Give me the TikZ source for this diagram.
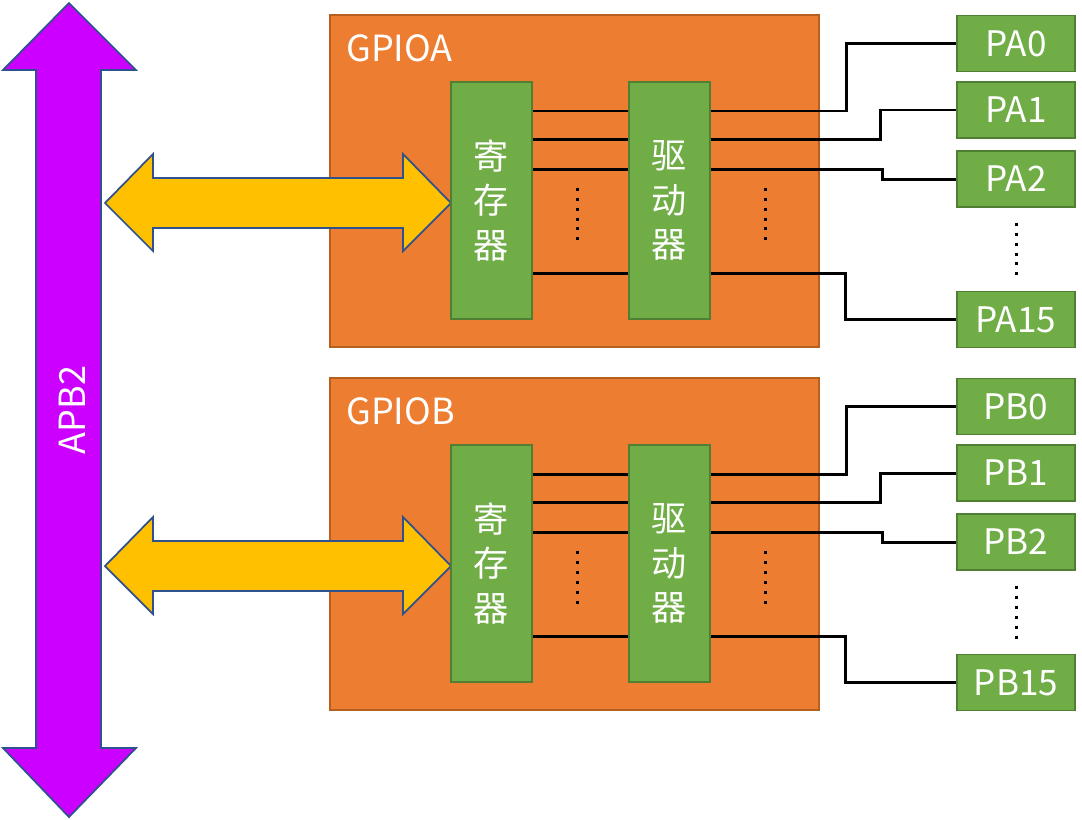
\documentclass[tikz,border=0pt]{standalone}
\usepackage{fontspec}
\setmainfont{Noto Sans CJK SC}
\usetikzlibrary{positioning,calc}
\definecolor{gpioorange}{HTML}{ED7D31}
\definecolor{gpioedge}{HTML}{B5601F}
\definecolor{boxgreen}{HTML}{70AD47}
\definecolor{boxedge}{HTML}{507E32}
\definecolor{busyellow}{HTML}{FFC000}
\definecolor{busedge}{HTML}{2F528F}
\definecolor{buspurple}{HTML}{CC00FF}
\tikzset{
  gpiobox/.style={
    rectangle, draw=gpioedge, fill=gpioorange, line width=1.1pt,
    minimum width=9.78cm, minimum height=6.64cm, inner sep=0pt
  },
  chipbox/.style={
    rectangle, draw=boxedge, fill=boxgreen, line width=1.1pt,
    minimum width=1.62cm, minimum height=4.74cm, inner sep=0pt,
    text=white, align=center, font=\fontsize{20}{25.3}\selectfont
  },
  pinbox/.style={
    rectangle, draw=boxedge, fill=boxgreen, line width=1.1pt,
    minimum width=2.36cm, minimum height=1.12cm, inner sep=0pt,
    text=white, font=\fontsize{20}{24}\selectfont
  },
  title/.style={text=white, inner sep=0pt, font=\fontsize{20.5}{24}\selectfont},
  wire/.style={line width=1.7pt, black},
  dots/.style={line width=0.06cm, black, dash pattern=on 0.06cm off 0.14cm},
  bus/.style={draw=busedge, line width=1pt, line join=miter}
}

\begin{document}
\begin{tikzpicture}[x=0.02cm, y=-0.02cm]
\useasboundingbox (0,0) rectangle (1082,819);

% APB2 bus
\filldraw[bus, fill=buspurple]
  (69,3) -- (136,70) -- (101,70) -- (101,748) -- (136,748) -- (69,817)
  -- (3,748) -- (36,748) -- (36,70) -- (3,70) -- cycle;
\node[title, rotate=90] (apb) at (72,410) {APB2};

% GPIOA
\node[gpiobox] (gpioA) at (574.5,181) {};
\node[title, anchor=base west] (gpioA-name) at (346,61) {GPIOA};

\filldraw[bus, fill=busyellow]
  (105,203) -- (153,154) -- (153,178) -- (403,178) -- (403,154) -- (451,203)
  -- (403,251) -- (403,228) -- (153,228) -- (153,251) -- cycle;

\node[chipbox] (regA) at (491.5,200.5) {寄\\存\\器};
\node[chipbox] (drvA) at (669.5,200.5) {驱\\动\\器};

\node[pinbox] (pa0) at (1016,43.5) {PA0};
\node[pinbox] (pa1) at (1016,110) {PA1};
\node[pinbox] (pa2) at (1016,179) {PA2};
\node[pinbox] (pa15) at (1016,319.5) {PA15};

\draw[wire] (regA.east |- 0,111) -- (drvA.west |- 0,111);
\draw[wire] (regA.east |- 0,139) -- (drvA.west |- 0,139);
\draw[wire] (regA.east |- 0,169) -- (drvA.west |- 0,169);
\draw[wire] (regA.east |- 0,273) -- (drvA.west |- 0,273);

\draw[wire] (drvA.east |- 0,111) -- (846,111) |- (pa0.west);
\draw[wire] (drvA.east |- 0,139) -- (880,139) |- (pa1.west);
\draw[wire] (drvA.east |- 0,169) -- (882,169) |- (pa2.west);
\draw[wire] (drvA.east |- 0,273) -- (845,273) |- (pa15.west);

\draw[dots] (577,187.5) -- (577,240.5);
\draw[dots] (765,187.5) -- (765,240.5);
\draw[dots] (pa2.south |- 0,222.5) -- (pa2.south |- 0,275.5);

% GPIOB
\node[gpiobox] (gpioB) at (574.5,544) {};
\node[title, anchor=base west] (gpioB-name) at (346,424) {GPIOB};

\filldraw[bus, fill=busyellow]
  (105,566) -- (153,517) -- (153,541) -- (403,541) -- (403,517) -- (451,566)
  -- (403,614) -- (403,591) -- (153,591) -- (153,614) -- cycle;

\node[chipbox] (regB) at (491.5,563.5) {寄\\存\\器};
\node[chipbox] (drvB) at (669.5,563.5) {驱\\动\\器};

\node[pinbox] (pb0) at (1016,406.5) {PB0};
\node[pinbox] (pb1) at (1016,473) {PB1};
\node[pinbox] (pb2) at (1016,542) {PB2};
\node[pinbox] (pb15) at (1016,682.5) {PB15};

\draw[wire] (regB.east |- 0,474) -- (drvB.west |- 0,474);
\draw[wire] (regB.east |- 0,502) -- (drvB.west |- 0,502);
\draw[wire] (regB.east |- 0,532) -- (drvB.west |- 0,532);
\draw[wire] (regB.east |- 0,636) -- (drvB.west |- 0,636);

\draw[wire] (drvB.east |- 0,474) -- (846,474) |- (pb0.west);
\draw[wire] (drvB.east |- 0,502) -- (880,502) |- (pb1.west);
\draw[wire] (drvB.east |- 0,532) -- (882,532) |- (pb2.west);
\draw[wire] (drvB.east |- 0,636) -- (845,636) |- (pb15.west);

\draw[dots] (577,550.5) -- (577,603.5);
\draw[dots] (765,550.5) -- (765,603.5);
\draw[dots] (pb2.south |- 0,585.5) -- (pb2.south |- 0,638.5);

\end{tikzpicture}
\end{document}
